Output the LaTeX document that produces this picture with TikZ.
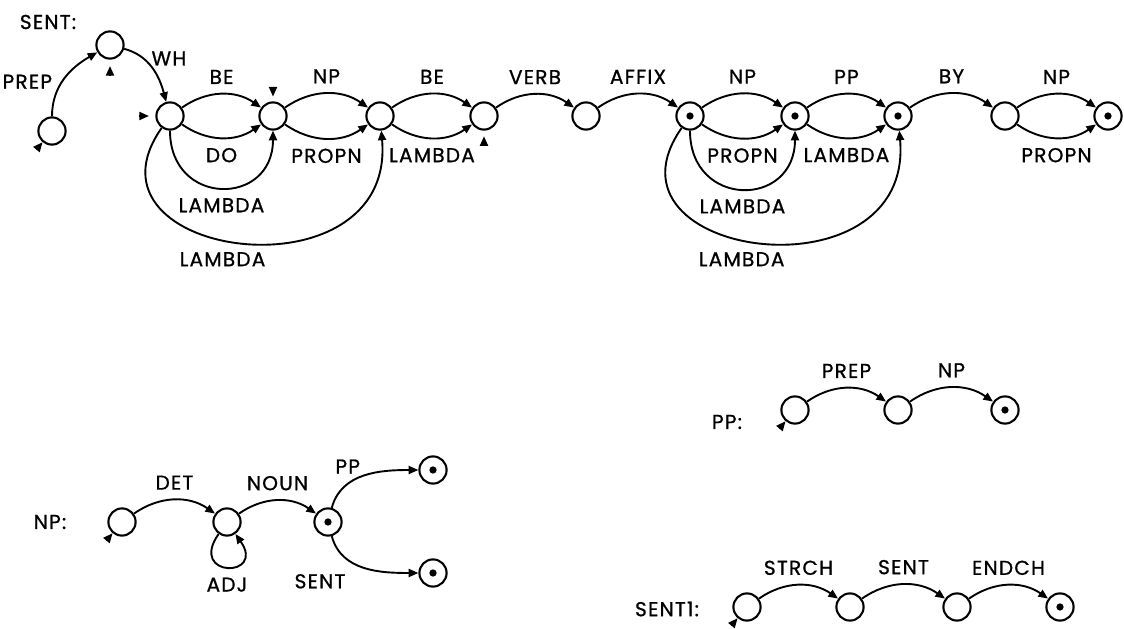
\documentclass[tikz,border=0pt]{standalone}
\usepackage{fontspec}
\setmainfont{Poppins}[FakeBold=0.9, LetterSpace=6]
\usepackage{tikz}
\usetikzlibrary{positioning,arrows.meta}

\begin{document}
\begin{tikzpicture}[
  x=1cm, y=1cm,
  state/.style ={circle, draw, line width=1.5pt, minimum size=6.8mm, inner sep=0pt},
  final/.style ={state, path picture={\fill (path picture bounding box.center) circle (2.6pt);}},
  e/.style     ={-{Triangle[length=2.4mm,width=2mm]}, line width=1.35pt},
  entry/.style ={-{Triangle[length=2.4mm,width=2mm]}, line width=1.35pt},
  jump/.style  ={out=-125, in=-85, out distance=4cm, in distance=4.3cm},
  lbl/.style   ={font=\fontsize{14.3}{16}\selectfont, inner sep=1pt},
  net/.style   ={font=\fontsize{14.3}{16}\selectfont, inner sep=1pt},
]
\useasboundingbox (0,0) rectangle (28.1,15.725);
% ---------------- SENT network ----------------
\node[net]   (sentname) at (1.2,15.175) {SENT:};
\node[state] (s0)  at (1.30,12.45)   {};
\node[state] (s1)  at (2.75,14.60)   {};
\node[state] (s2)  at (4.25,12.825)  {};
\node[state] (s3)  at (6.825,12.825) {};
\node[state] (s4)  at (9.50,12.825)  {};
\node[state] (s5)  at (12.10,12.825) {};
\node[state] (s6)  at (14.65,12.825) {};
\node[final] (s7)  at (17.25,12.825) {};
\node[final] (s8)  at (19.875,12.825) {};
\node[final] (s9)  at (22.45,12.825) {};
\node[state] (s10) at (25.125,12.825) {};
\node[final] (s11) at (27.70,12.825) {};

% entry marks
\draw[entry] (s0.-130) ++(-130:2.4mm) -- (s0.-130);
\draw[entry, shorten >=1.6mm] (s1.south) ++(0,-4mm) -- (s1.south);
\draw[entry, shorten >=1.6mm] (s2.west)  ++(-4mm,0) -- (s2.west);
\draw[entry, shorten >=1.2mm] (s3.north) ++(0,3.6mm) -- (s3.north);
\draw[entry, shorten >=1.4mm] (s5.south) ++(0,-3.8mm) -- (s5.south);

% arcs
\draw[e] (s0) to[out=90,in=-150]  node[lbl,pos=.45,left=2mm]{PREP} (s1);
\draw[e] (s1) to[out=-15,in=105]  node[lbl,pos=.3,right=1.5mm]{WH} (s2);
\draw[e] (s2) to[out=35,in=145]   node[lbl,above=2mm]{BE} (s3);
\draw[e] (s2) to[out=-35,in=-145] node[lbl,below=2mm]{DO} (s3);
\draw[e] (s2) to[out=-90,in=-90,looseness=1.9] node[lbl,below=2mm]{LAMBDA} (s3);
\draw[e] (s2) to[jump] node[lbl,pos=.45,below=2.5mm]{LAMBDA} (s4);
\draw[e] (s3) to[out=35,in=145]   node[lbl,above=2mm]{NP} (s4);
\draw[e] (s3) to[out=-35,in=-145] node[lbl,below=2mm]{PROPN} (s4);
\draw[e] (s4) to[out=35,in=145]   node[lbl,above=2mm]{BE} (s5);
\draw[e] (s4) to[out=-35,in=-145] node[lbl,below=2mm]{LAMBDA} (s5);
\draw[e] (s5) to[out=35,in=145]   node[lbl,above=2mm]{VERB} (s6);
\draw[e] (s6) to[out=35,in=145]   node[lbl,above=2mm]{AFFIX} (s7);
\draw[e] (s7) to[out=35,in=145]   node[lbl,above=2mm]{NP} (s8);
\draw[e] (s7) to[out=-35,in=-145] node[lbl,below=2mm]{PROPN} (s8);
\draw[e] (s7) to[out=-90,in=-90,looseness=1.9] node[lbl,below=2mm]{LAMBDA} (s8);
\draw[e] (s7) to[jump] node[lbl,pos=.45,below=2.5mm]{LAMBDA} (s9);
\draw[e] (s8) to[out=35,in=145]   node[lbl,above=2mm]{PP} (s9);
\draw[e] (s8) to[out=-35,in=-145] node[lbl,below=2mm]{LAMBDA} (s9);
\draw[e] (s9) to[out=35,in=145]   node[lbl,above=2mm]{BY} (s10);
\draw[e] (s10) to[out=35,in=145]  node[lbl,above=2mm]{NP} (s11);
\draw[e] (s10) to[out=-35,in=-145] node[lbl,below=2mm]{PROPN} (s11);

% ---------------- PP network ----------------
\node[net]   (ppname) at (18.175,5.175) {PP:};
\node[state] (p0) at (19.875,5.475) {};
\node[state] (p1) at (22.45,5.475)  {};
\node[final] (p2) at (25.125,5.475) {};
\draw[entry] (p0.-130) ++(-130:2.4mm) -- (p0.-130);
\draw[e] (p0) to[out=35,in=145] node[lbl,above=2mm]{PREP} (p1);
\draw[e] (p1) to[out=35,in=145] node[lbl,above=2mm]{NP} (p2);

% ---------------- NP network ----------------
\node[net]   (npname) at (1.25,2.675) {NP:};
\node[state] (n0) at (3.05,2.675)  {};
\node[state] (n1) at (5.675,2.675) {};
\node[final] (n2) at (8.20,2.675)  {};
\node[final] (n3) at (10.825,3.975) {};
\node[final] (n4) at (10.825,1.40)  {};
\draw[entry] (n0.-130) ++(-130:2.4mm) -- (n0.-130);
\draw[e] (n0) to[out=35,in=145] node[lbl,above=2mm]{DET} (n1);
\draw[e] (n1) to[out=35,in=145] node[lbl,above=2mm]{NOUN} (n2);
\draw[e] (n1) to[out=-125,in=-55,distance=1.35cm] node[lbl,below=2mm]{ADJ} (n1);
\draw[e] (n2) to[out=75,in=180]  node[lbl,pos=.3,above=2mm]{PP} (n3);
\draw[e] (n2) to[out=-75,in=180] node[lbl,pos=.3,below left=3mm and 0mm]{SENT} (n4);

% ---------------- SENT1 network ----------------
\node[net]   (sent1name) at (16.675,0.5) {SENT1:};
\node[state] (t0) at (18.675,0.55) {};
\node[state] (t1) at (21.25,0.55)  {};
\node[state] (t2) at (23.925,0.55) {};
\node[final] (t3) at (26.5,0.55)   {};
\draw[entry] (t0.-130) ++(-130:2.4mm) -- (t0.-130);
\draw[e] (t0) to[out=35,in=145] node[lbl,above=2mm]{STRCH} (t1);
\draw[e] (t1) to[out=35,in=145] node[lbl,above=2mm]{SENT} (t2);
\draw[e] (t2) to[out=35,in=145] node[lbl,above=2mm]{ENDCH} (t3);
\end{tikzpicture}
\end{document}
